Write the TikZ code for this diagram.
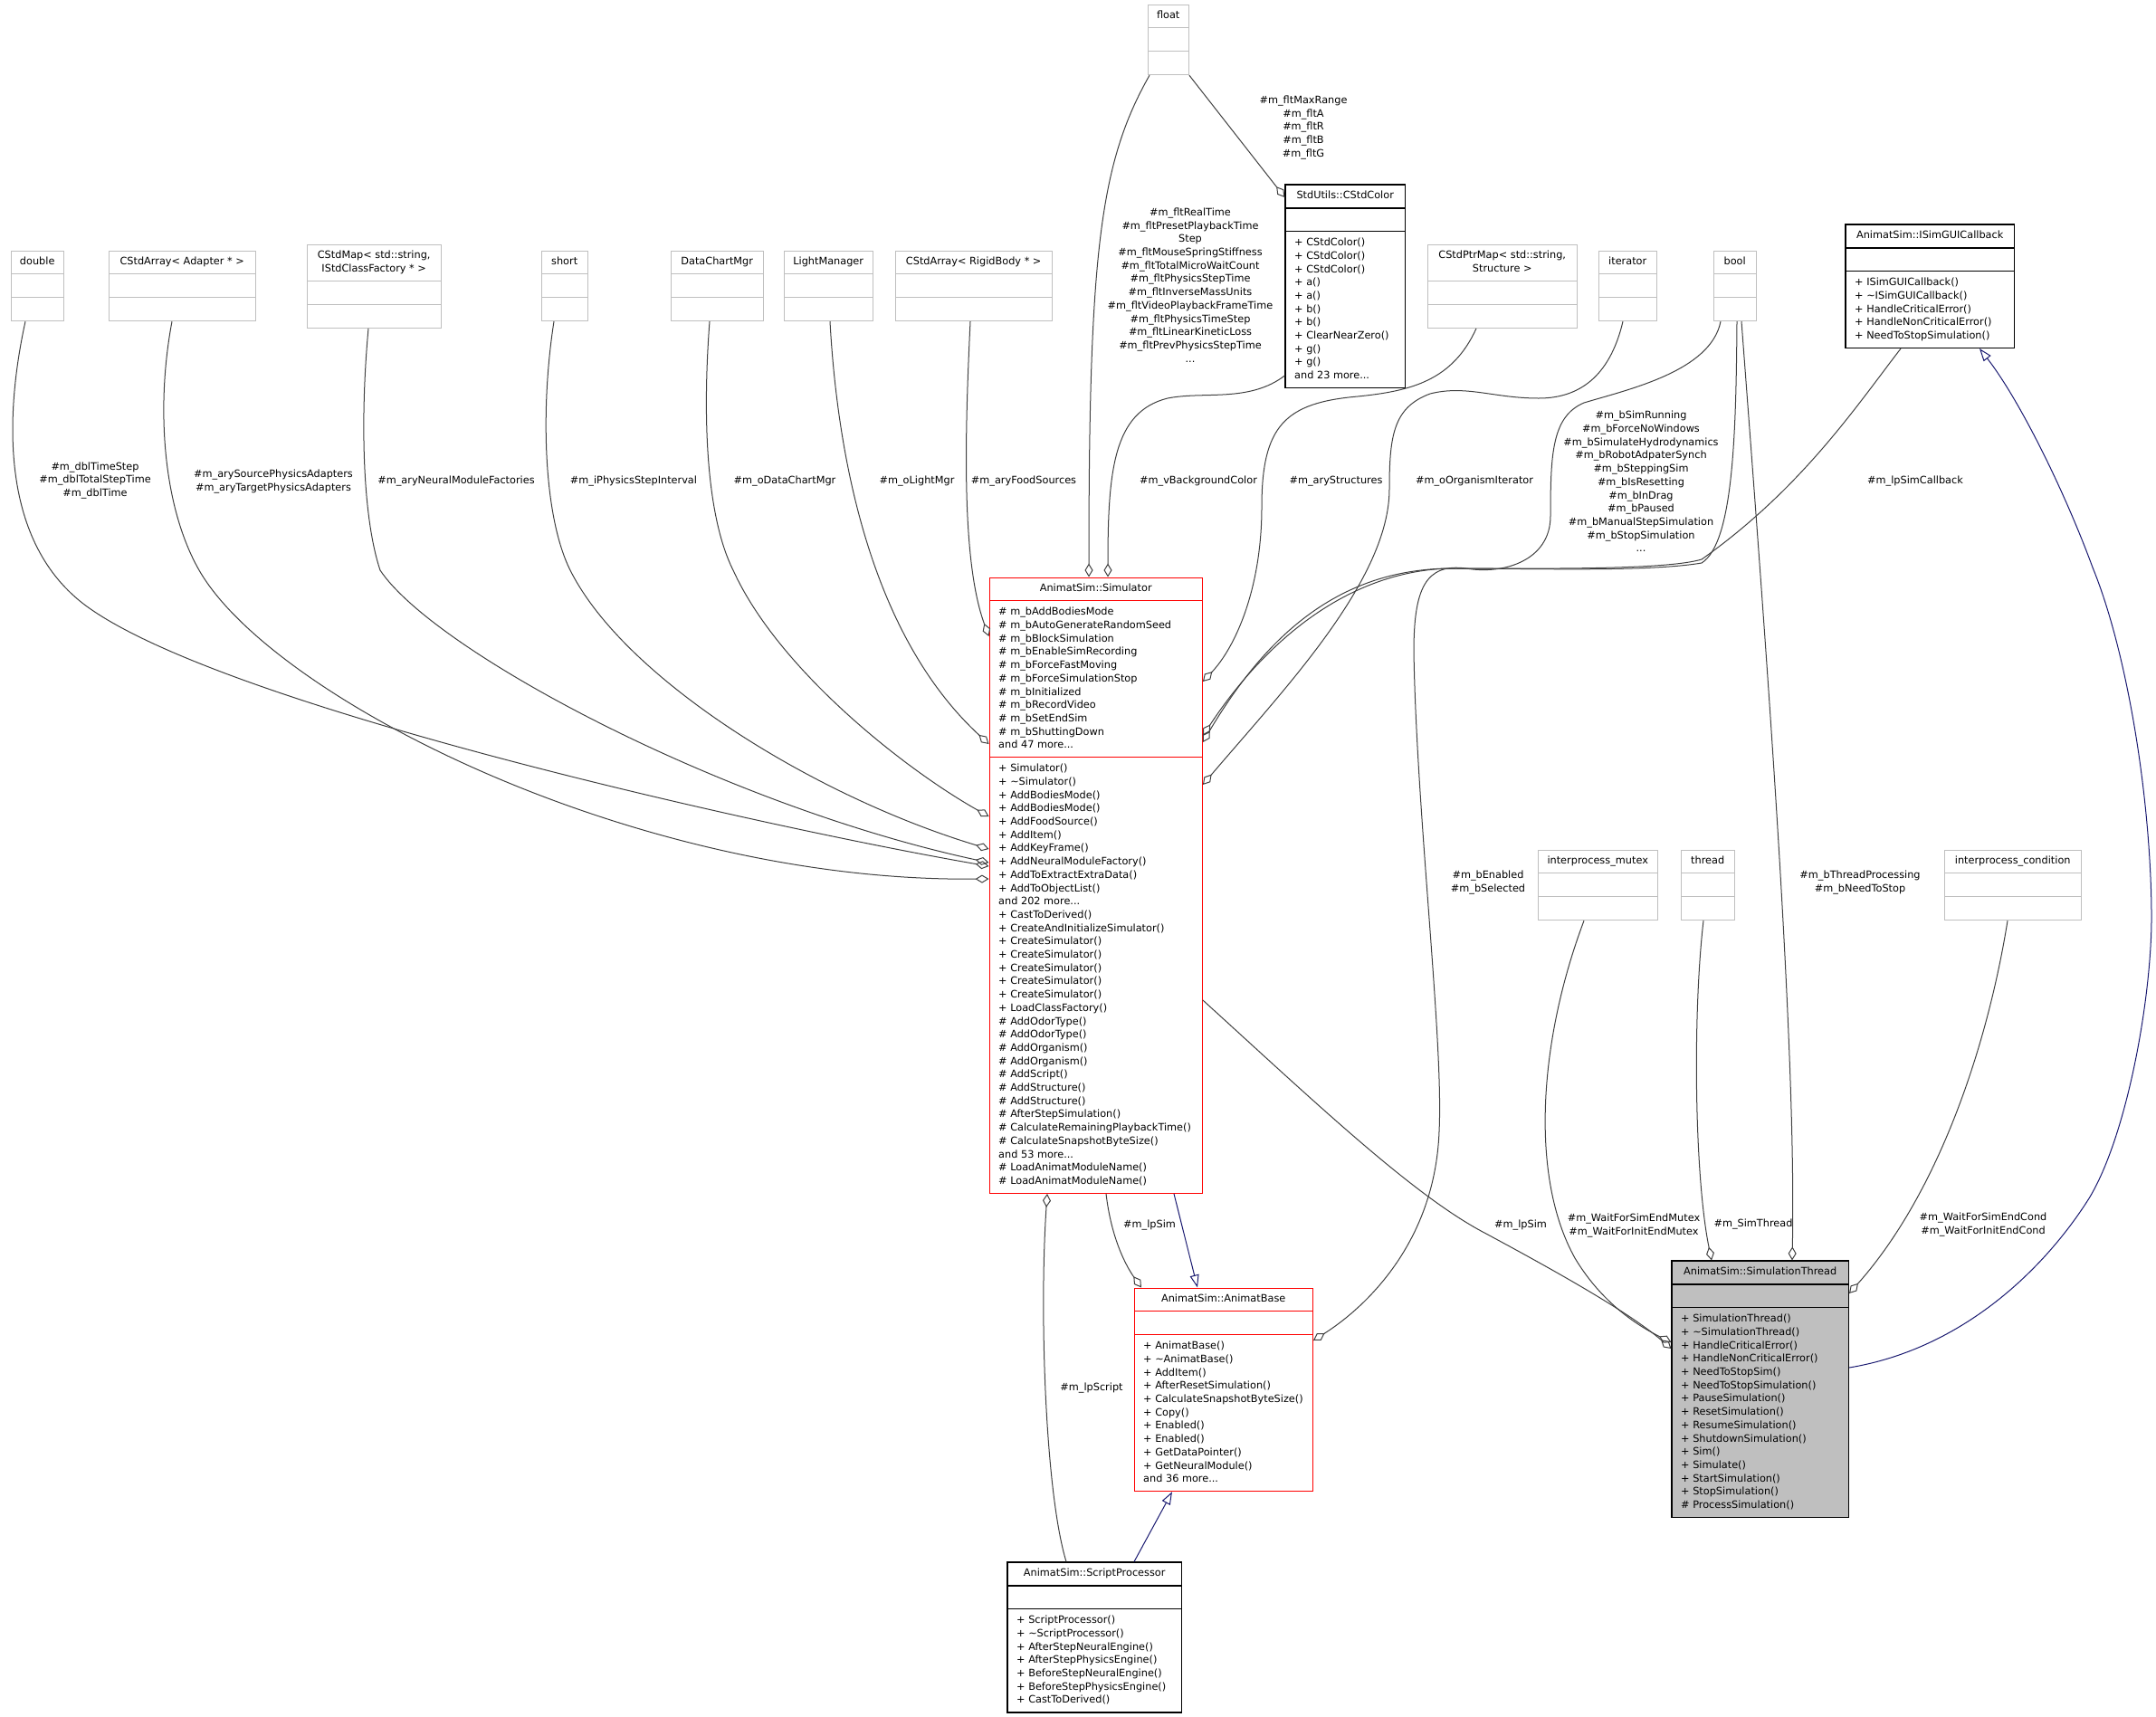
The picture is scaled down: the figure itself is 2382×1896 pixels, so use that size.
\documentclass[tikz,border=0pt]{standalone}
\usepackage{fontspec}
\setmainfont{DejaVu Sans}
\usetikzlibrary{arrows.meta, fit, backgrounds}
\definecolor{edgegray}{HTML}{404040}
\definecolor{boxgray}{HTML}{BFBFBF}
\definecolor{inhblue}{HTML}{191970}

% class box: [style] {id} {top left} {width} {name} {attributes} {methods}
\newcommand{\umlclass}[7][]{%
  \node[clsname, minimum width=#4, anchor=north west] (#2-h) at (#3) {\strut #5\strut};
  \node[clsbody, anchor=north west] (#2-a) at (#2-h.south west) {\strut #6\strut};
  \node[clsbody, anchor=north west] (#2-m) at (#2-a.south west) {\strut #7\strut};
  \begin{scope}[on background layer]
    \node[clsframe, #1, fit=(#2-h)(#2-m)] (#2) {};
  \end{scope}
  \draw[clsframe, #1] (#2-h.south west) -- (#2-h.south east);
  \draw[clsframe, #1] (#2-a.south west) -- (#2-a.south west -| #2-h.east);
}

\begin{document}
\begin{tikzpicture}[x=1pt, y=-1pt,
    every node/.style={font=\fontsize{11.3}{14.7}\selectfont},
    clsname/.style={inner xsep=0pt, inner ysep=5.4pt, align=center},
    clsbody/.style={inner xsep=10pt, inner ysep=5.4pt, align=left},
    clsframe/.style={draw=boxgray, line width=1pt, inner sep=0pt},
    redcls/.style={draw=red},
    blackcls/.style={draw=black, line width=1.2pt},
    curcls/.style={draw=black, line width=1.2pt, fill=boxgray},
    agg/.style={draw=edgegray, line width=1pt, -{Diamond[open, length=15pt, width=9pt]}},
    inh/.style={draw=inhblue, line width=1pt, -{Triangle[open, length=14pt, width=10pt]}},
    lbl/.style={align=center, inner sep=0pt}]
  \useasboundingbox (0,0) rectangle (2382,1896);

  % top row
  \umlclass{dbl}{12,277}{58}{double}{}{}
  \umlclass{adp}{120,277}{162}{CStdArray< Adapter * >}{}{}
  \umlclass{cmap}{339,270}{148}{CStdMap< std::string,\\ IStdClassFactory * >}{}{}
  \umlclass{shrt}{598,277}{51}{short}{}{}
  \umlclass{dcm}{741,277}{102}{DataChartMgr}{}{}
  \umlclass{lmgr}{866,277}{98}{LightManager}{}{}
  \umlclass{rbody}{989,277}{173}{CStdArray< RigidBody * >}{}{}
  \umlclass{flt}{1268,5}{45}{float}{}{}
  \umlclass[blackcls]{color}{1420,204}{132}{StdUtils::CStdColor}{}{%
    + CStdColor()\\+ CStdColor()\\+ CStdColor()\\+ a()\\+ a()\\+ b()\\+ b()\\%
    + ClearNearZero()\\+ g()\\+ g()\\and 23 more...}
  \umlclass{pmap}{1577,270}{165}{CStdPtrMap< std::string,\\ Structure >}{}{}
  \umlclass{iter}{1766,277}{64}{iterator}{}{}
  \umlclass{bool}{1893,277}{47}{bool}{}{}
  \umlclass[blackcls]{gui}{2039,248}{186}{AnimatSim::ISimGUICallback}{}{%
    + ISimGUICallback()\\+ \textasciitilde ISimGUICallback()\\+ HandleCriticalError()\\%
    + HandleNonCriticalError()\\+ NeedToStopSimulation()}

  % simulator
  \umlclass[redcls]{sim}{1093,638}{235}{AnimatSim::Simulator}{%
    \# m\_bAddBodiesMode\\\# m\_bAutoGenerateRandomSeed\\\# m\_bBlockSimulation\\%
    \# m\_bEnableSimRecording\\\# m\_bForceFastMoving\\\# m\_bForceSimulationStop\\%
    \# m\_bInitialized\\\# m\_bRecordVideo\\\# m\_bSetEndSim\\\# m\_bShuttingDown\\%
    and 47 more...}{%
    + Simulator()\\+ \textasciitilde Simulator()\\+ AddBodiesMode()\\+ AddBodiesMode()\\%
    + AddFoodSource()\\+ AddItem()\\+ AddKeyFrame()\\+ AddNeuralModuleFactory()\\%
    + AddToExtractExtraData()\\+ AddToObjectList()\\and 202 more...\\+ CastToDerived()\\%
    + CreateAndInitializeSimulator()\\+ CreateSimulator()\\+ CreateSimulator()\\%
    + CreateSimulator()\\+ CreateSimulator()\\+ CreateSimulator()\\+ LoadClassFactory()\\%
    \# AddOdorType()\\\# AddOdorType()\\\# AddOrganism()\\\# AddOrganism()\\\# AddScript()\\%
    \# AddStructure()\\\# AddStructure()\\\# AfterStepSimulation()\\%
    \# CalculateRemainingPlaybackTime()\\\# CalculateSnapshotByteSize()\\and 53 more...\\%
    \# LoadAnimatModuleName()\\\# LoadAnimatModuleName()}

  \umlclass{mutex}{1699,939}{132}{interprocess\_mutex}{}{}
  \umlclass{thr}{1857,939}{59}{thread}{}{}
  \umlclass{cond}{2148,939}{151}{interprocess\_condition}{}{}

  \umlclass[redcls]{base}{1253,1423}{197}{AnimatSim::AnimatBase}{}{%
    + AnimatBase()\\+ \textasciitilde AnimatBase()\\+ AddItem()\\+ AfterResetSimulation()\\%
    + CalculateSnapshotByteSize()\\+ Copy()\\+ Enabled()\\+ Enabled()\\+ GetDataPointer()\\%
    + GetNeuralModule()\\and 36 more...}
  \umlclass[curcls]{sth}{1847,1393}{195}{AnimatSim::SimulationThread}{}{%
    + SimulationThread()\\+ \textasciitilde SimulationThread()\\+ HandleCriticalError()\\%
    + HandleNonCriticalError()\\+ NeedToStopSim()\\+ NeedToStopSimulation()\\%
    + PauseSimulation()\\+ ResetSimulation()\\+ ResumeSimulation()\\+ ShutdownSimulation()\\%
    + Sim()\\+ Simulate()\\+ StartSimulation()\\+ StopSimulation()\\\# ProcessSimulation()}
  \umlclass[blackcls]{scr}{1113,1726}{192}{AnimatSim::ScriptProcessor}{}{%
    + ScriptProcessor()\\+ \textasciitilde ScriptProcessor()\\+ AfterStepNeuralEngine()\\%
    + AfterStepPhysicsEngine()\\+ BeforeStepNeuralEngine()\\+ BeforeStepPhysicsEngine()\\%
    + CastToDerived()}

  % edge labels
  \node[lbl] (l-dbl) at (105,531) {\#m\_dblTimeStep\\\#m\_dblTotalStepTime\\\#m\_dblTime};
  \node[lbl] (l-adp) at (302,532) {\#m\_arySourcePhysicsAdapters\\\#m\_aryTargetPhysicsAdapters};
  \node[lbl] (l-cmap) at (504,532) {\#m\_aryNeuralModuleFactories};
  \node[lbl] (l-shrt) at (700,532) {\#m\_iPhysicsStepInterval};
  \node[lbl] (l-dcm) at (867,532) {\#m\_oDataChartMgr};
  \node[lbl] (l-lmgr) at (1013,532) {\#m\_oLightMgr};
  \node[lbl] (l-rbody) at (1131,532) {\#m\_aryFoodSources};
  \node[lbl] (l-flt) at (1315,315) {\#m\_fltRealTime\\\#m\_fltPresetPlaybackTime\\Step\\%
    \#m\_fltMouseSpringStiffness\\\#m\_fltTotalMicroWaitCount\\\#m\_fltPhysicsStepTime\\%
    \#m\_fltInverseMassUnits\\\#m\_fltVideoPlaybackFrameTime\\\#m\_fltPhysicsTimeStep\\%
    \#m\_fltLinearKineticLoss\\\#m\_fltPrevPhysicsStepTime\\...};
  \node[lbl] (l-fltc) at (1440,141) {\#m\_fltMaxRange\\\#m\_fltA\\\#m\_fltR\\\#m\_fltB\\\#m\_fltG};
  \node[lbl] (l-color) at (1324,532) {\#m\_vBackgroundColor};
  \node[lbl] (l-pmap) at (1476,532) {\#m\_aryStructures};
  \node[lbl] (l-iter) at (1629,532) {\#m\_oOrganismIterator};
  \node[lbl] (l-bool) at (1813,532) {\#m\_bSimRunning\\\#m\_bForceNoWindows\\%
    \#m\_bSimulateHydrodynamics\\\#m\_bRobotAdpaterSynch\\\#m\_bSteppingSim\\%
    \#m\_bIsResetting\\\#m\_bInDrag\\\#m\_bPaused\\\#m\_bManualStepSimulation\\%
    \#m\_bStopSimulation\\...};
  \node[lbl] (l-gui) at (2116,532) {\#m\_lpSimCallback};
  \node[lbl] (l-boolb) at (1644,975) {\#m\_bEnabled\\\#m\_bSelected};
  \node[lbl] (l-boolt) at (2055,975) {\#m\_bThreadProcessing\\\#m\_bNeedToStop};
  \node[lbl] (l-mutex) at (1805,1354) {\#m\_WaitForSimEndMutex\\\#m\_WaitForInitEndMutex};
  \node[lbl] (l-thr) at (1937,1353) {\#m\_SimThread};
  \node[lbl] (l-cond) at (2191,1353) {\#m\_WaitForSimEndCond\\\#m\_WaitForInitEndCond};
  \node[lbl] (l-simt) at (1680,1354) {\#m\_lpSim};
  \node[lbl] (l-simb) at (1270,1354) {\#m\_lpSim};
  \node[lbl] (l-scr) at (1206,1534) {\#m\_lpScript};

  % members of the simulator
  \draw[agg] (dbl.south -| 28,0) .. controls (5,460) and (0,600) .. (96,670) .. controls (250,782) and (850,915) .. (sim.west |- 0,957);
  \draw[agg] (adp.south -| 190,0) .. controls (172,450) and (180,560) .. (220,630) .. controls (300,770) and (700,975) .. (sim.west |- 0,971);
  \draw[agg] (cmap.south -| 407,0) .. controls (398,460) and (400,570) .. (420,630) .. controls (480,720) and (800,890) .. (sim.west |- 0,953);
  \draw[agg] (shrt.south -| 612,0) .. controls (597,450) and (600,570) .. (630,630) .. controls (690,750) and (900,880) .. (sim.west |- 0,938);
  \draw[agg] (dcm.south -| 784,0) .. controls (776,460) and (780,570) .. (810,630) .. controls (860,740) and (1000,850) .. (sim.west |- 0,902);
  \draw[agg] (lmgr.south -| 917,0) .. controls (925,500) and (960,700) .. (sim.west |- 0,822);
  \draw[agg] (rbody.south -| 1072,0) .. controls (1066,480) and (1062,620) .. (sim.west |- 0,703);
  \draw[agg] (flt.south -| 1270,0) .. controls (1215,180) and (1203,280) .. (sim.north -| 1203,0);
  \draw[agg] (flt.south east) -- (color.west |- 0,218);
  \draw[agg] (color.west |- 0,415) .. controls (1380,445) and (1330,432) .. (1290,440) .. controls (1230,455) and (1224,520) .. (sim.north -| 1224,0);
  \draw[agg] (pmap.south -| 1631,0) .. controls (1605,420) and (1560,432) .. (1500,438) .. controls (1420,445) and (1394,470) .. (1394,560) .. controls (1394,650) and (1365,715) .. (sim.east |- 0,753);
  \draw[agg] (iter.south -| 1793,0) .. controls (1780,410) and (1750,440) .. (1700,440) .. controls (1650,440) and (1620,425) .. (1580,435) .. controls (1540,450) and (1535,480) .. (1535,540) .. controls (1535,640) and (1420,760) .. (sim.east |- 0,867);
  \draw[agg] (bool.south -| 1919,0) .. controls (1918,480) and (1915,600) .. (1880,622) .. controls (1820,632) and (1700,628) .. (1600,628) .. controls (1480,630) and (1400,700) .. (sim.east |- 0,820);
  \draw[agg] (gui.south -| 2100,0) .. controls (2050,450) and (1990,540) .. (1880,618) .. controls (1840,630) and (1700,628) .. (1600,628) .. controls (1480,632) and (1390,720) .. (sim.east |- 0,813);

  % other members
  \draw[agg] (bool.south -| 1901,0) .. controls (1890,410) and (1800,430) .. (1750,445) .. controls (1715,460) and (1713,500) .. (1713,570) .. controls (1713,620) and (1660,635) .. (1620,628) .. controls (1575,622) and (1562,650) .. (1562,720) .. controls (1565,900) and (1595,1150) .. (1590,1250) .. controls (1585,1380) and (1500,1450) .. (base.east |- 0,1481);
  \draw[agg] (bool.south -| 1924,0) .. controls (1950,700) and (1985,1150) .. (sth.north -| 1980,0);
  \draw[agg] (mutex.south -| 1750,0) .. controls (1700,1150) and (1690,1300) .. (1740,1390) .. controls (1770,1440) and (1810,1465) .. (sth.west |- 0,1483);
  \draw[agg] (thr.south -| 1882,0) .. controls (1870,1120) and (1872,1300) .. (sth.north -| 1891,0);
  \draw[agg] (cond.south -| 2218,0) .. controls (2195,1160) and (2140,1320) .. (sth.east |- 0,1429);
  \draw[agg] (sim.east |- 0,1105) .. controls (1450,1215) and (1560,1320) .. (1640,1362) .. controls (1720,1405) and (1800,1450) .. (sth.west |- 0,1490);
  \draw[agg] (sim.south -| 1222,0) .. controls (1228,1370) and (1245,1400) .. (base.north -| 1261,0);
  \draw[agg] (scr.north -| 1178,0) .. controls (1155,1650) and (1148,1450) .. (sim.south -| 1157,0);

  % inheritance
  \draw[inh] (sim.south -| 1297,0) -- (base.north -| 1323,0);
  \draw[inh] (scr.north -| 1253,0) -- (base.south -| 1295,0);
  \draw[inh] (sth.east |- 0,1511) .. controls (2170,1490) and (2260,1400) .. (2308,1324) .. controls (2350,1255) and (2378,1100) .. (2377,1008) .. controls (2376,880) and (2350,720) .. (2312,627) .. controls (2280,540) and (2230,440) .. (gui.south -| 2187,0);
\end{tikzpicture}
\end{document}
